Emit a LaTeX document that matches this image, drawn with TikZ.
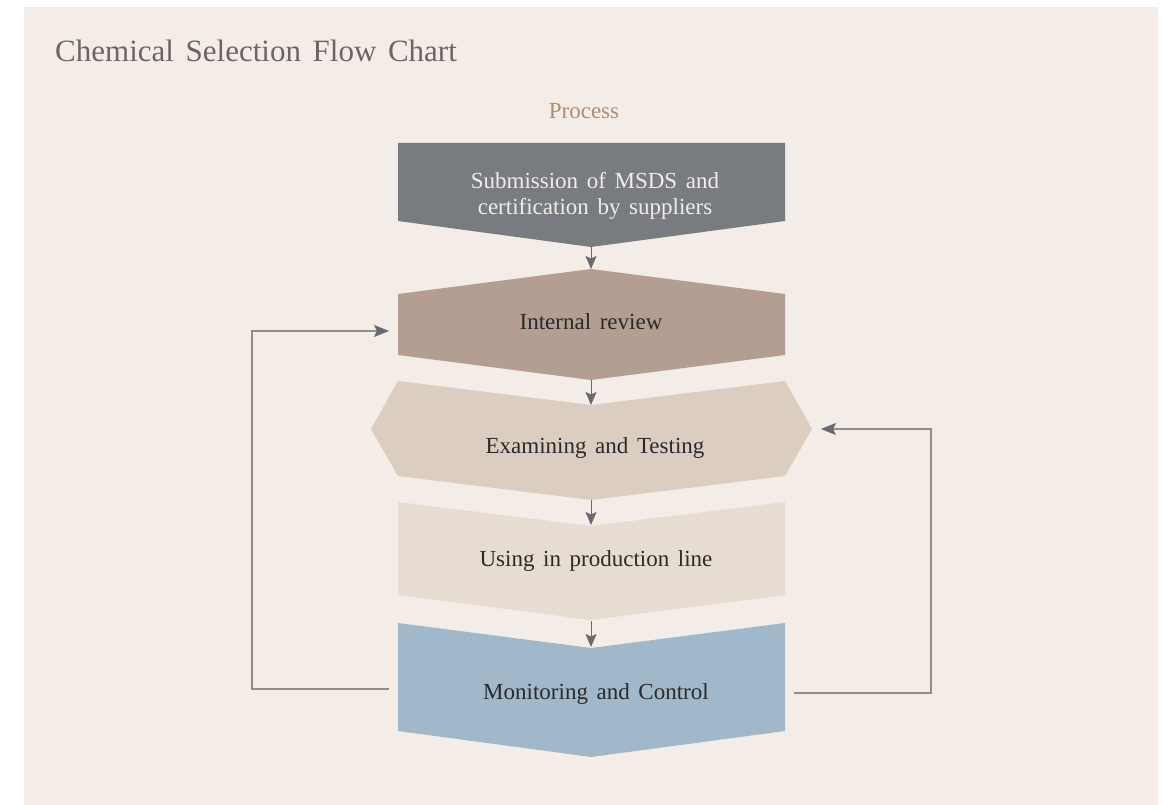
\documentclass[tikz,border=0pt]{standalone}
\usepackage{fontspec}
\setmainfont{Liberation Serif}[WordSpace=1.5]
\usetikzlibrary{arrows.meta}

\definecolor{pagebg}{HTML}{F3ECE7}
\definecolor{stepA}{HTML}{787B80}
\definecolor{stepB}{HTML}{B49E91}
\definecolor{stepC}{HTML}{DCCDC1}
\definecolor{stepD}{HTML}{E7DCD1}
\definecolor{stepE}{HTML}{A1B8CB}
\definecolor{titlegray}{HTML}{6B6566}
\definecolor{tan}{HTML}{B08D72}
\definecolor{darktext}{HTML}{2A2A2A}
\definecolor{loopline}{HTML}{8E8E8E}
\definecolor{tipgray}{HTML}{676A70}

\tikzset{
  label text/.style={font=\fontsize{23}{26}\selectfont, text=darktext, inner sep=0pt},
  flow/.style={line width=1pt, draw=tipgray,
    -{Stealth[length=13pt, width=11pt, inset=2.5pt, fill=tipgray]}},
  loop/.style={line width=1.1pt, draw=loopline,
    -{Stealth[length=15pt, width=12pt, inset=3pt, fill=tipgray, color=tipgray]}},
}

\begin{document}
\begin{tikzpicture}[x=1pt, y=-1pt]
\useasboundingbox (0,0) rectangle (1163,805);
\fill[pagebg] (24,7) rectangle (1158,805);

% title and column heading
\node[anchor=base west, inner sep=0pt, text=titlegray,
      font=\fontsize{31}{36}\selectfont] (title) at (55,62) {Chemical Selection Flow Chart};
\node[anchor=base, inner sep=0pt, text=tan,
      font=\fontsize{23}{26}\selectfont] (process) at (584,119) {Process};

% process steps
\fill[stepA] (398,143) -- (785,143) -- (785,221) -- (591,247) -- (398,221) -- cycle;
\fill[stepB] (591,269) -- (785,294) -- (785,355) -- (591,380) -- (398,355) -- (398,294) -- cycle;
\fill[stepC] (398,381) -- (591,405) -- (785,381) -- (812,429) -- (785,476)
             -- (591,500) -- (398,476) -- (371,429) -- cycle;
\fill[stepD] (398,502) -- (591,526) -- (785,502) -- (785,595) -- (591,620) -- (398,595) -- cycle;
\fill[stepE] (398,623) -- (591,648) -- (785,623) -- (785,731) -- (591,757) -- (398,731) -- cycle;

\node[label text, text=pagebg, align=center] (submit) at (595,196)
  {Submission of MSDS and\\certification by suppliers};
\node[label text, anchor=base] (review) at (591,330) {Internal review};
\node[label text, anchor=base] (examine) at (595,453) {Examining and Testing};
\node[label text, anchor=base] (usage) at (596,566) {Using in production line};
\node[label text, anchor=base] (monitor) at (596,699) {Monitoring and Control};

% connector ends
\coordinate (submitOut) at (591,247);
\coordinate (reviewIn) at (591,269);
\coordinate (reviewOut) at (591,380);
\coordinate (examineIn) at (591,405);
\coordinate (examineOut) at (591,500);
\coordinate (usageIn) at (591,525);
\coordinate (usageOut) at (591,621);
\coordinate (monitorIn) at (591,647);
\coordinate (monitorWest) at (389,689);
\coordinate (reviewWest) at (389,331);
\coordinate (monitorEast) at (794,693);
\coordinate (examineEast) at (821,429);

% main flow
\draw[flow] (submitOut) -- (reviewIn);
\draw[flow] (reviewOut) -- (examineIn);
\draw[flow] (examineOut) -- (usageIn);
\draw[flow] (usageOut) -- (monitorIn);

% feedback loops
\draw[loop] (monitorWest) -- ++(-137,0) |- (reviewWest);
\draw[loop] (monitorEast) -- ++(137,0) |- (examineEast);
\end{tikzpicture}
\end{document}
